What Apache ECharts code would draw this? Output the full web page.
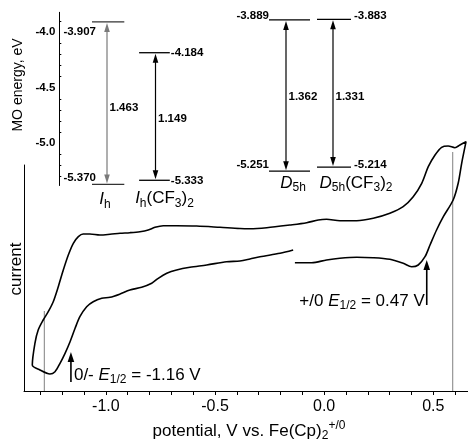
<!DOCTYPE html>
<html><head><meta charset="utf-8">
<script src="https://cdn.jsdelivr.net/npm/echarts@6/dist/echarts.min.js"></script>
<style>html,body{margin:0;padding:0;background:#fff}#c{width:468px;height:439px}</style>
</head><body><div id="c"></div>
<script>
// ---------- Cyclic voltammogram (scan order) ----------
const potential = [
  -0.134,-0.057,0.011,0.072,0.149,0.225,0.301,0.362,0.401,0.431,0.462,0.485,0.515,0.546,0.591,0.614,0.630,0.650,
  0.622,0.599,0.568,0.538,0.508,0.477,0.447,0.408,0.362,0.301,0.225,0.149,0.072,0.011,-0.027,-0.080,-0.157,-0.263,-0.340,-0.386,-0.477,-0.584,-0.676,-0.737,-0.775,-0.806,-0.844,-0.890,-0.935,-0.981,-1.027,-1.073,-1.104,-1.126,-1.149,-1.172,-1.195,-1.218,-1.241,-1.264,-1.287,-1.310,-1.325,-1.337,
  -1.302,-1.256,-1.233,-1.210,-1.187,-1.164,-1.141,-1.119,-1.088,-1.058,-1.019,-0.981,-0.935,-0.890,-0.836,-0.790,-0.760,-0.721,-0.676,-0.615,-0.538,-0.447,-0.386,-0.340,-0.294,-0.202,-0.142
];
const current = [
  128.3,128.3,131,132.7,133.7,133.3,131.7,127.7,124.3,126,134.3,146,161,174.3,191,207.7,227.7,249.3,
  246,243.3,245,243.7,236,224.3,207.7,194.3,184.3,177.7,172.7,170.3,170.3,171.7,171,168.3,166,163.3,162.3,162.5,163.7,165,165.3,165.3,163.7,161,159.3,158.3,157.7,156.7,156,157,157,154.3,147.7,136,121,104.3,89.3,79.3,71,61,47.7,26,
  21,17,19.3,27.7,37.7,49.3,62.7,74.3,84.3,89.3,92.7,93.7,97,101,103.7,107.7,112.7,117.7,121,123.7,126,129.3,130,132,134.3,137.7,141
];
const guidePotential = [-1.282, 0.589];
const guideTop = [80, 239];
const couples = ['0/-', '+/0'];
const halfWave = [-1.16, 0.47];
const arrowTip = [39, 131];
const arrowBase = [9, 86];
const xTickLabels = [-1.0, -0.5, 0.0, 0.5];
const xTicks = [-1.3,-1.2,-1.1,-1.0,-0.9,-0.8,-0.7,-0.6,-0.5,-0.4,-0.3,-0.2,-0.1,0.0,0.1,0.2,0.3,0.4,0.5,0.6];

// ---------- MO energies (inset) ----------
const moSystems = ['Ih', 'Ih(CF3)2', 'D5h', 'D5h(CF3)2'];
const lumo = [-3.907, -4.184, -3.889, -3.883];
const homo = [-5.370, -5.333, -5.251, -5.214];
const gapVals = [1.463, 1.149, 1.362, 1.331];
const moTickLabels = [-4.0, -4.5, -5.0];
const moMinorTicks = [-5.3,-5.2,-5.1,-4.9,-4.8,-4.7,-4.6,-4.4,-4.3,-4.2,-4.1,-3.9];

// ---------- styling / layout ----------
const FONT = "'Liberation Sans', Arial, Helvetica, sans-serif";
const levelL = [15, 16.4, 17, 16];
const levelR = [17.3, 14.3, 24, 18];
const lineColor = ['#333', '#000', '#000', '#000'];
const arrowColor = ['#7a7a7a', '#000', '#000', '#000'];
const lumoLab = [{a:'right', dx:4, dy:10}, {a:'left', dx:1, dy:0}, {a:'right', dx:0, dy:-4}, {a:'left', dx:3, dy:-3}];
const homoLab = [{a:'right', dx:4, dy:-7}, {a:'left', dx:1, dy:1}, {a:'right', dx:0, dy:-6}, {a:'left', dx:3, dy:-2}];
const gapDy = [5, 2, 1, 4];
const nameDx = [-2, 9, 7, 23];
const nameDy = [15, 18, 12, 16];
const eLab = [{a:'left', dx:3, dy:-7}, {a:'right', dx:-2, dy:-4}];

function richName(n) {
  const m = n.match(/^([A-Z])([^()]*)(.*)$/);
  return '{i|' + m[1] + '}{s|' + m[2] + '}' + m[3].replace(/(\d)/g, '{s|$1}');
}
function txt(x, y, text, align, vAlign, extra) {
  return {type: 'text', x: x, y: y, style: Object.assign({
    text: text, align: align, verticalAlign: vAlign, textAlign: align, textVerticalAlign: vAlign,
    fill: '#000', fontFamily: FONT}, extra || {})};
}
const smallBold = {fontSize: 11.5, fontWeight: 'bold'};
const richSub = {
  i: {fontStyle: 'italic', fontSize: 17, fontFamily: FONT},
  s: {fontSize: 12, lineHeight: 12, verticalAlign: 'bottom', fontFamily: FONT}
};

function renderLevel(params, api) {
  const k = api.value(4);
  const t = api.coord([api.value(0), api.value(1)]);
  const b = api.coord([api.value(0), api.value(2)]);
  const x = t[0], L = x - levelL[k], R = x + levelR[k];
  const ls = {stroke: lineColor[k], lineWidth: 1.3};
  const ac = arrowColor[k];
  const ch = [];
  ch.push({type: 'line', shape: {x1: L, y1: t[1], x2: R, y2: t[1]}, style: ls});
  ch.push({type: 'line', shape: {x1: L, y1: b[1], x2: R, y2: b[1]}, style: ls});
  ch.push({type: 'line', shape: {x1: x, y1: t[1] + 6, x2: x, y2: b[1] - 6}, style: {stroke: ac, lineWidth: 1.2}});
  ch.push({type: 'polygon', shape: {points: [[x, t[1] + 1], [x - 2.8, t[1] + 10], [x + 2.8, t[1] + 10]]}, style: {fill: ac}});
  ch.push({type: 'polygon', shape: {points: [[x, b[1] - 1], [x - 2.8, b[1] - 10], [x + 2.8, b[1] - 10]]}, style: {fill: ac}});
  const lt = lumoLab[k], hb = homoLab[k];
  ch.push(txt((lt.a === 'right' ? L : R) + lt.dx, t[1] + lt.dy, api.value(1).toFixed(3), lt.a, 'middle', smallBold));
  ch.push(txt((hb.a === 'right' ? L : R) + hb.dx, b[1] + hb.dy, api.value(2).toFixed(3), hb.a, 'middle', smallBold));
  ch.push(txt(x + 2.5, (t[1] + b[1]) / 2 + gapDy[k], api.value(3).toFixed(3), 'left', 'middle', smallBold));
  ch.push(txt(x + nameDx[k], b[1] + nameDy[k], richName(moSystems[k]), 'center', 'middle',
    {fontSize: 17, lineHeight: 22, rich: richSub}));
  return {type: 'group', children: ch};
}

function renderGuide(params, api) {
  const a = api.coord([api.value(0), 0]);
  const b = api.coord([api.value(0), api.value(1)]);
  return {type: 'line', shape: {x1: a[0], y1: a[1], x2: b[0], y2: b[1]}, style: {stroke: '#808080', lineWidth: 1}};
}

function renderE(params, api) {
  const i = params.dataIndex;
  const tip = api.coord([api.value(0), api.value(1)]);
  const base = api.coord([api.value(0), api.value(2)]);
  const x = tip[0];
  const e = eLab[i];
  return {type: 'group', children: [
    {type: 'line', shape: {x1: x, y1: tip[1] + 8, x2: x, y2: base[1]}, style: {stroke: '#000', lineWidth: 1.6}},
    {type: 'polygon', shape: {points: [[x, tip[1]], [x - 3.3, tip[1] + 10], [x + 3.3, tip[1] + 10]]}, style: {fill: '#000'}},
    txt(x + e.dx, base[1] + e.dy, couples[i] + ' {i|E}{s|1/2} = ' + api.value(0).toFixed(2) + ' V', e.a, 'middle',
      {fontSize: 17, lineHeight: 22, rich: richSub})
  ]};
}

const chart = echarts.init(document.getElementById('c'));
const option = {
  animation: false,
  textStyle: {fontFamily: FONT, color: '#000'},
  grid: [
    {left: 24, top: 165, right: 0, bottom: 48, outerBoundsMode: 'none', containLabel: false},
    {left: 82.75, top: 12.3, width: 97, height: 173.2, outerBoundsMode: 'none', containLabel: false},
    {left: 262.5, top: 12.3, width: 94, height: 173.2, outerBoundsMode: 'none', containLabel: false}
  ],
  xAxis: [
    {gridIndex: 0, type: 'value', min: -1.375, max: 0.659,
     axisLine: {onZero: false, lineStyle: {color: '#000', width: 1}},
     axisTick: {customValues: xTicks, length: 4, lineStyle: {color: '#000'}},
     axisLabel: {customValues: xTickLabels, formatter: v => v.toFixed(1), fontSize: 16, color: '#000', margin: 8, fontFamily: FONT},
     splitLine: {show: false},
     name: 'potential, V vs. Fe(Cp){sub|2}{sup|+/0}', nameLocation: 'middle', nameGap: 27,
     nameTextStyle: {fontSize: 17, color: '#000', lineHeight: 22, fontFamily: FONT, padding: [0, 0, 0, 6],
       rich: {sub: {fontSize: 12, lineHeight: 12, verticalAlign: 'bottom', fontFamily: FONT},
              sup: {fontSize: 12, lineHeight: 12, verticalAlign: 'top', fontFamily: FONT}}}},
    {gridIndex: 1, type: 'category', data: moSystems.slice(0, 2), show: false},
    {gridIndex: 2, type: 'category', data: moSystems.slice(2, 4), show: false}
  ],
  yAxis: [
    {gridIndex: 0, type: 'value', min: 0, max: 226, axisLine: {show: true, onZero: false, lineStyle: {color: '#000'}},
     axisTick: {show: false}, axisLabel: {show: false}, splitLine: {show: false}},
    {gridIndex: 1, type: 'value', min: -5.38, max: -3.82, position: 'left', offset: 23.45,
     axisLine: {show: true, onZero: false, lineStyle: {color: '#000'}},
     axisTick: {customValues: moTickLabels, length: 3, lineStyle: {color: '#000'}},
     axisLabel: {customValues: moTickLabels, formatter: v => v.toFixed(1), fontSize: 11.5, fontWeight: 'bold', color: '#000', margin: 4, fontFamily: FONT},
     splitLine: {show: false}},
    {gridIndex: 1, type: 'value', min: -5.38, max: -3.82, position: 'left', offset: 23.45,
     axisLine: {show: false, onZero: false}, axisTick: {show: true, inside: true, customValues: moMinorTicks, length: 2, lineStyle: {color: '#000'}},
     axisLabel: {show: false}, splitLine: {show: false}},
    {gridIndex: 2, type: 'value', min: -5.38, max: -3.82, show: false}
  ],
  graphic: [
    {type: 'text', x: 16, y: 269, rotation: Math.PI / 2,
     style: {text: 'current', fontSize: 17, fontFamily: FONT, fill: '#000', align: 'center', verticalAlign: 'middle', textAlign: 'center', textVerticalAlign: 'middle'}},
    {type: 'text', x: 18, y: 85, rotation: Math.PI / 2,
     style: {text: 'MO energy, eV', fontSize: 14, fontFamily: FONT, fill: '#000', align: 'center', verticalAlign: 'middle', textAlign: 'center', textVerticalAlign: 'middle'}}
  ],
  series: [
    {type: 'custom', xAxisIndex: 0, yAxisIndex: 0, silent: true, z: 1, clip: false,
     data: guidePotential.map((v, i) => [v, guideTop[i]]), renderItem: renderGuide},
    {type: 'line', xAxisIndex: 0, yAxisIndex: 0, data: potential.map((v, i) => [v, current[i]]),
     showSymbol: false, smooth: 0.3, clip: false, lineStyle: {color: '#000', width: 1.6}, z: 3},
    {type: 'custom', xAxisIndex: 0, yAxisIndex: 0, silent: true, z: 4, clip: false,
     data: halfWave.map((v, i) => [v, arrowTip[i], arrowBase[i]]), renderItem: renderE},
    {type: 'custom', xAxisIndex: 1, yAxisIndex: 1, silent: true, clip: false,
     data: [0, 1].map(k => [k, lumo[k], homo[k], gapVals[k], k]), renderItem: renderLevel},
    {type: 'custom', xAxisIndex: 2, yAxisIndex: 3, silent: true, clip: false,
     data: [2, 3].map(k => [k - 2, lumo[k], homo[k], gapVals[k], k]), renderItem: renderLevel}
  ]
};
chart.setOption(option);
</script>
</body></html>
